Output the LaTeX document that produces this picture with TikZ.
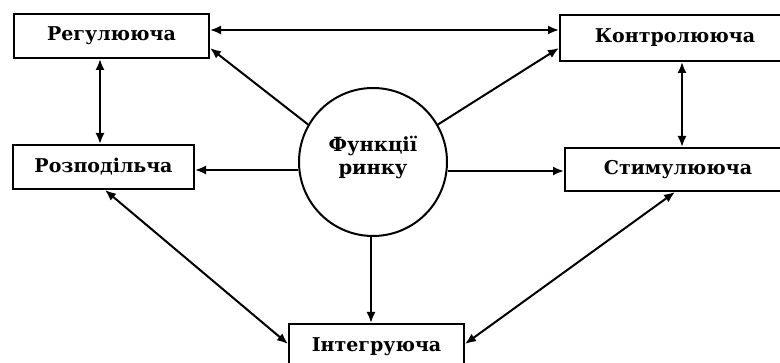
\documentclass[tikz,border=0pt]{standalone}
\usepackage{fontspec}
\setmainfont{DejaVu Serif}
\usetikzlibrary{arrows.meta}
\begin{document}
\begin{tikzpicture}[x=1pt,y=-1pt,
  box/.style={draw,line width=2pt,inner sep=0pt,font=\fontsize{19}{22}\selectfont\bfseries},
  con/.style={line width=2pt,-{Latex[length=11pt,width=9pt]}},
  bicon/.style={line width=2pt,{Latex[length=11pt,width=9pt]}-{Latex[length=11pt,width=9pt]}}]
\useasboundingbox (0,0) rectangle (780,363);
\fill[white] (0,0) rectangle (780,363);
\node[box,minimum width=195pt,minimum height=44pt] (reg) at (111.5,36) {Регулююча};
\node[box,minimum width=230pt,minimum height=46pt] (kon) at (675,38) {Контролююча};
\node[box,minimum width=181pt,minimum height=44pt] (roz) at (103.5,167) {Розподільча};
\node[box,minimum width=226pt,minimum height=43pt] (stim) at (678,169.5) {Стимулююча};
\node[box,minimum width=175pt,minimum height=46pt] (int) at (376.5,347) {Інтегруюча};
\node[draw,circle,line width=2pt,minimum size=148pt,inner sep=0pt] (f) at (373,162) {};
\node[align=center,inner sep=0pt,font=\fontsize{19.5}{23}\selectfont\bfseries] (ft) at (373,157) {Функції\\ринку};
\coordinate (rega) at (reg.east |- 0,30);
\coordinate (kona) at (kon.west |- 0,30);
\draw[bicon] (rega) -- (kona);
\draw[con] (f.150) -- (reg.east |- 0,48);
\draw[con] (f.30) -- (kon.west |- 0,48);
\draw[bicon] (reg.south -| 100,0) -- (roz.north -| 100,0);
\draw[bicon] (kon.south -| 682,0) -- (stim.north -| 682,0);
\draw[con] (f.west |- 0,170) -- (roz.east |- 0,170);
\draw[con] (f.east |- 0,171) -- (stim.west |- 0,171);
\draw[con] (f.south -| 371,0) -- (int.north -| 371,0);
\draw[bicon] (roz.south -| 105,0) -- (int.west |- 0,344);
\draw[bicon] (stim.south -| 675,0) -- (int.east |- 0,344);
\end{tikzpicture}
\end{document}
